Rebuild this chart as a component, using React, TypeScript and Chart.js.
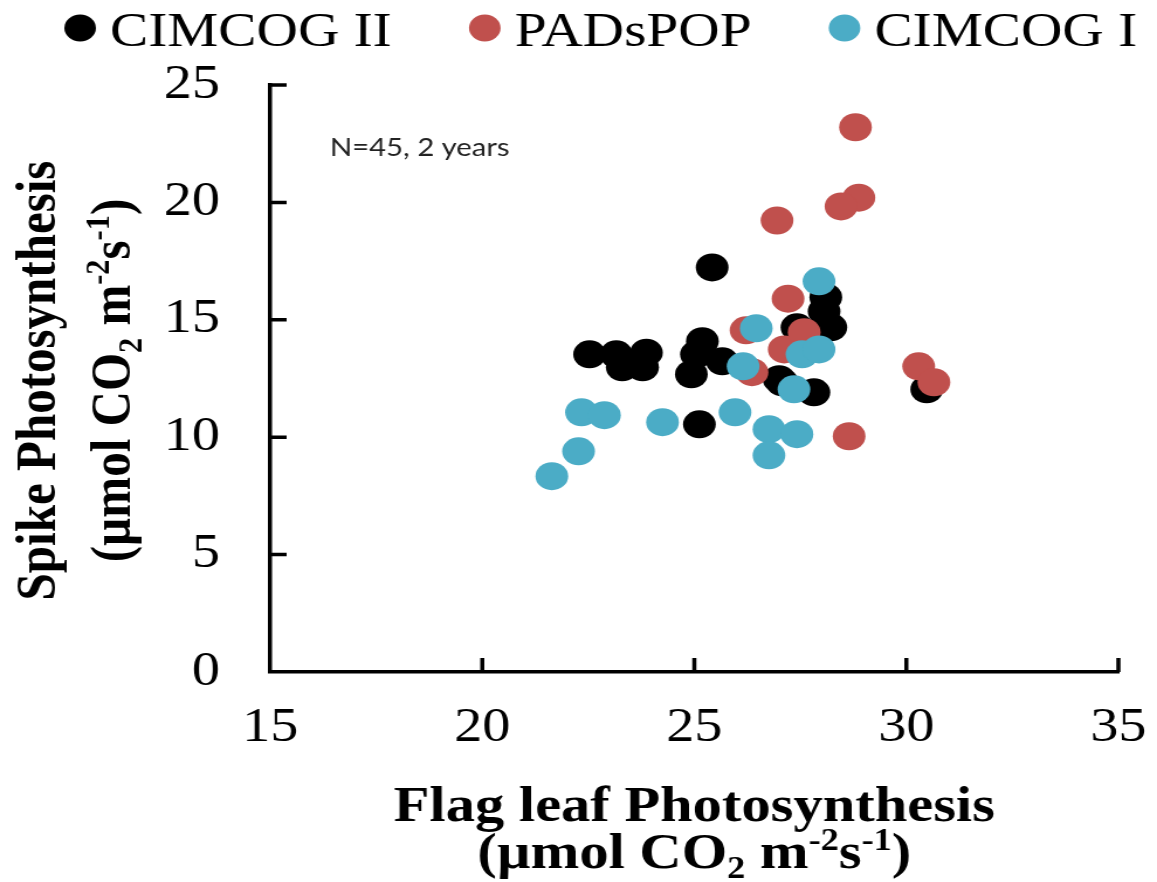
import React, { useEffect, useRef } from 'react';
import { Chart, registerables } from 'chart.js';

Chart.register(...registerables);

// ---------- data ----------
const seriesNames = ['CIMCOG II', 'PADsPOP', 'CIMCOG I'];
const seriesColors = ['#000000', '#C0504D', '#4BACC6'];

const cimcog2X = [25.42, 22.53, 23.16, 23.3, 23.87, 23.78, 25.19, 25.05, 24.93, 25.66, 25.12, 27.07, 28.1, 28.06, 28.22, 27.42, 27.0, 27.82, 30.48];
const cimcog2Y = [17.23, 13.53, 13.53, 12.98, 13.6, 12.98, 14.09, 13.53, 12.68, 13.23, 10.55, 12.34, 15.96, 15.36, 14.68, 14.68, 12.47, 11.91, 12.04];

const padsPopX = [28.8, 28.88, 28.46, 26.95, 27.21, 26.22, 26.36, 27.12, 27.59, 30.29, 30.65, 28.65];
const padsPopY = [23.2, 20.2, 19.83, 19.23, 15.9, 14.55, 12.77, 13.74, 14.47, 13.02, 12.34, 10.04];

const cimcog1X = [26.46, 26.15, 22.34, 22.88, 24.25, 25.96, 26.76, 26.76, 22.27, 21.64, 27.94, 27.54, 27.94, 27.35, 27.42];
const cimcog1Y = [14.64, 13.02, 11.06, 10.94, 10.64, 11.06, 10.34, 9.23, 9.4, 8.34, 16.64, 13.53, 13.74, 12.04, 10.13];

const xTicks = [15, 20, 25, 30, 35];
const yTicks = [0, 5, 10, 15, 20, 25];

const xTitle = 'Flag leaf Photosynthesis';
const yTitle = 'Spike Photosynthesis';
const unitParts = ['(µmol CO', '2', ' m', '-2', 's', '-1', ')'];
const unitKinds = ['n', 'sub', 'n', 'sup', 'n', 'sup', 'n'];
const annotation = 'N=45, 2 years';

// ---------- layout ----------
const CANVAS_W = 989;
const CANVAS_H = 882;
const DISPLAY_W = 1157;
const SERIF = '"Liberation Serif", "Times New Roman", Times, serif';
const SANS = 'Lato, "Open Sans", "Liberation Sans", sans-serif';
const TICK_LEN = 14;
const AXIS_W = 3.5;

function drawRich(ctx: CanvasRenderingContext2D, cx: number, baseline: number, size: number) {
  const parts = unitParts.map((t, i) => {
    const kind = unitKinds[i];
    const sz = kind === 'n' ? size : size * 0.62;
    ctx.font = `bold ${sz}px ${SERIF}`;
    return { t, kind, sz, w: ctx.measureText(t).width };
  });
  const total = parts.reduce((a, p) => a + p.w, 0);
  let x = cx - total / 2;
  ctx.textAlign = 'left';
  ctx.textBaseline = 'alphabetic';
  for (const p of parts) {
    ctx.font = `bold ${p.sz}px ${SERIF}`;
    const dy = p.kind === 'sub' ? size * 0.2 : p.kind === 'sup' ? -size * 0.36 : 0;
    ctx.fillText(p.t, x, baseline + dy);
    x += p.w;
  }
}

const decorPlugin = {
  id: 'decor',
  afterDraw(chart: any) {
    const { ctx, chartArea } = chart;
    const xs = chart.scales.x;
    const ys = chart.scales.y;
    ctx.save();
    // inner tick marks
    ctx.strokeStyle = '#000';
    ctx.lineWidth = AXIS_W;
    ctx.beginPath();
    xTicks.forEach((v) => {
      if (v === xTicks[0]) return;
      const px = xs.getPixelForValue(v);
      ctx.moveTo(px, chartArea.bottom);
      ctx.lineTo(px, chartArea.bottom - TICK_LEN);
    });
    yTicks.forEach((v) => {
      if (v === yTicks[0]) return;
      const py = ys.getPixelForValue(v);
      ctx.moveTo(chartArea.left, py);
      ctx.lineTo(chartArea.left + TICK_LEN, py);
    });
    ctx.stroke();

    ctx.fillStyle = '#000';
    // x title
    const cx = (chartArea.left + chartArea.right) / 2;
    ctx.font = `bold 50px ${SERIF}`;
    ctx.textAlign = 'center';
    ctx.textBaseline = 'alphabetic';
    ctx.fillText(xTitle, cx, 821);
    drawRich(ctx, cx, 868, 50);

    // y title (rotated)
    const cy = (chartArea.top + chartArea.bottom) / 2 + 2;
    ctx.save();
    ctx.translate(0, cy);
    ctx.rotate(-Math.PI / 2);
    ctx.font = `bold 49px ${SERIF}`;
    ctx.textAlign = 'center';
    ctx.textBaseline = 'alphabetic';
    ctx.fillText(yTitle, 0, 47);
    drawRich(ctx, 0, 111, 49);
    ctx.restore();

    // annotation
    ctx.font = `25px ${SANS}`;
    ctx.fillStyle = '#222';
    ctx.textAlign = 'left';
    ctx.textBaseline = 'alphabetic';
    ctx.fillText(annotation, 282, 156);

    // legend
    let x = 55;
    const r = 13.5;
    seriesNames.forEach((name, i) => {
      ctx.fillStyle = seriesColors[i];
      ctx.beginPath();
      ctx.arc(x + r, 28, r, 0, Math.PI * 2);
      ctx.fill();
      x += 2 * r + 12;
      ctx.fillStyle = '#000';
      ctx.font = `49px ${SERIF}`;
      ctx.fillText(name, x, 46);
      x += ctx.measureText(name).width + 66;
    });
    ctx.restore();
  },
};

function toPoints(xs: number[], ys: number[]) {
  return xs.map((x, i) => ({ x, y: ys[i] }));
}

export default function App() {
  const ref = useRef<HTMLCanvasElement>(null);
  useEffect(() => {
    const canvas = ref.current;
    if (!canvas) return;
    const seriesData = [
      toPoints(cimcog2X, cimcog2Y),
      toPoints(padsPopX, padsPopY),
      toPoints(cimcog1X, cimcog1Y),
    ];
    const tickFont = { family: SERIF, size: 48 };
    const chart = new Chart(canvas, {
      type: 'scatter',
      data: {
        datasets: seriesNames.map((name, i) => ({
          label: name,
          data: seriesData[i],
          backgroundColor: seriesColors[i],
          borderWidth: 0,
          pointRadius: 14,
          pointHoverRadius: 14,
          order: 2 - i,
        })),
      },
      options: {
        animation: false,
        responsive: false,
        devicePixelRatio: 1,
        events: [],
        layout: { padding: { top: 85, right: 33, bottom: 0, left: 0 } },
        plugins: { legend: { display: false }, tooltip: { enabled: false }, title: { display: false } },
        scales: {
          x: {
            type: 'linear',
            min: 15,
            max: 35,
            ticks: { stepSize: 5, color: '#000', font: tickFont, padding: 0, maxRotation: 0, autoSkip: false },
            grid: { display: true, drawOnChartArea: false, drawTicks: true, tickLength: 28, tickColor: 'rgba(0,0,0,0)', color: 'rgba(0,0,0,0)' },
            border: { display: true, color: '#000', width: AXIS_W },
            afterFit: (s: any) => {
              s.height = 210;
            },
          },
          y: {
            type: 'linear',
            min: 0,
            max: 25,
            ticks: { stepSize: 5, color: '#000', font: tickFont, padding: 0 },
            grid: { display: true, drawOnChartArea: false, drawTicks: true, tickLength: 43, tickColor: 'rgba(0,0,0,0)', color: 'rgba(0,0,0,0)' },
            border: { display: true, color: '#000', width: AXIS_W },
            afterFit: (s: any) => {
              s.width = 231;
            },
          },
        },
      },
      plugins: [decorPlugin],
    } as any);
    return () => chart.destroy();
  }, []);
  return (
    <div style={{ position: 'absolute', left: 0, top: 0, width: DISPLAY_W, height: CANVAS_H, background: '#fff', overflow: 'hidden' }}>
      <canvas
        ref={ref}
        width={CANVAS_W}
        height={CANVAS_H}
        style={{ width: DISPLAY_W + 'px', height: CANVAS_H + 'px', display: 'block' }}
      />
    </div>
  );
}
